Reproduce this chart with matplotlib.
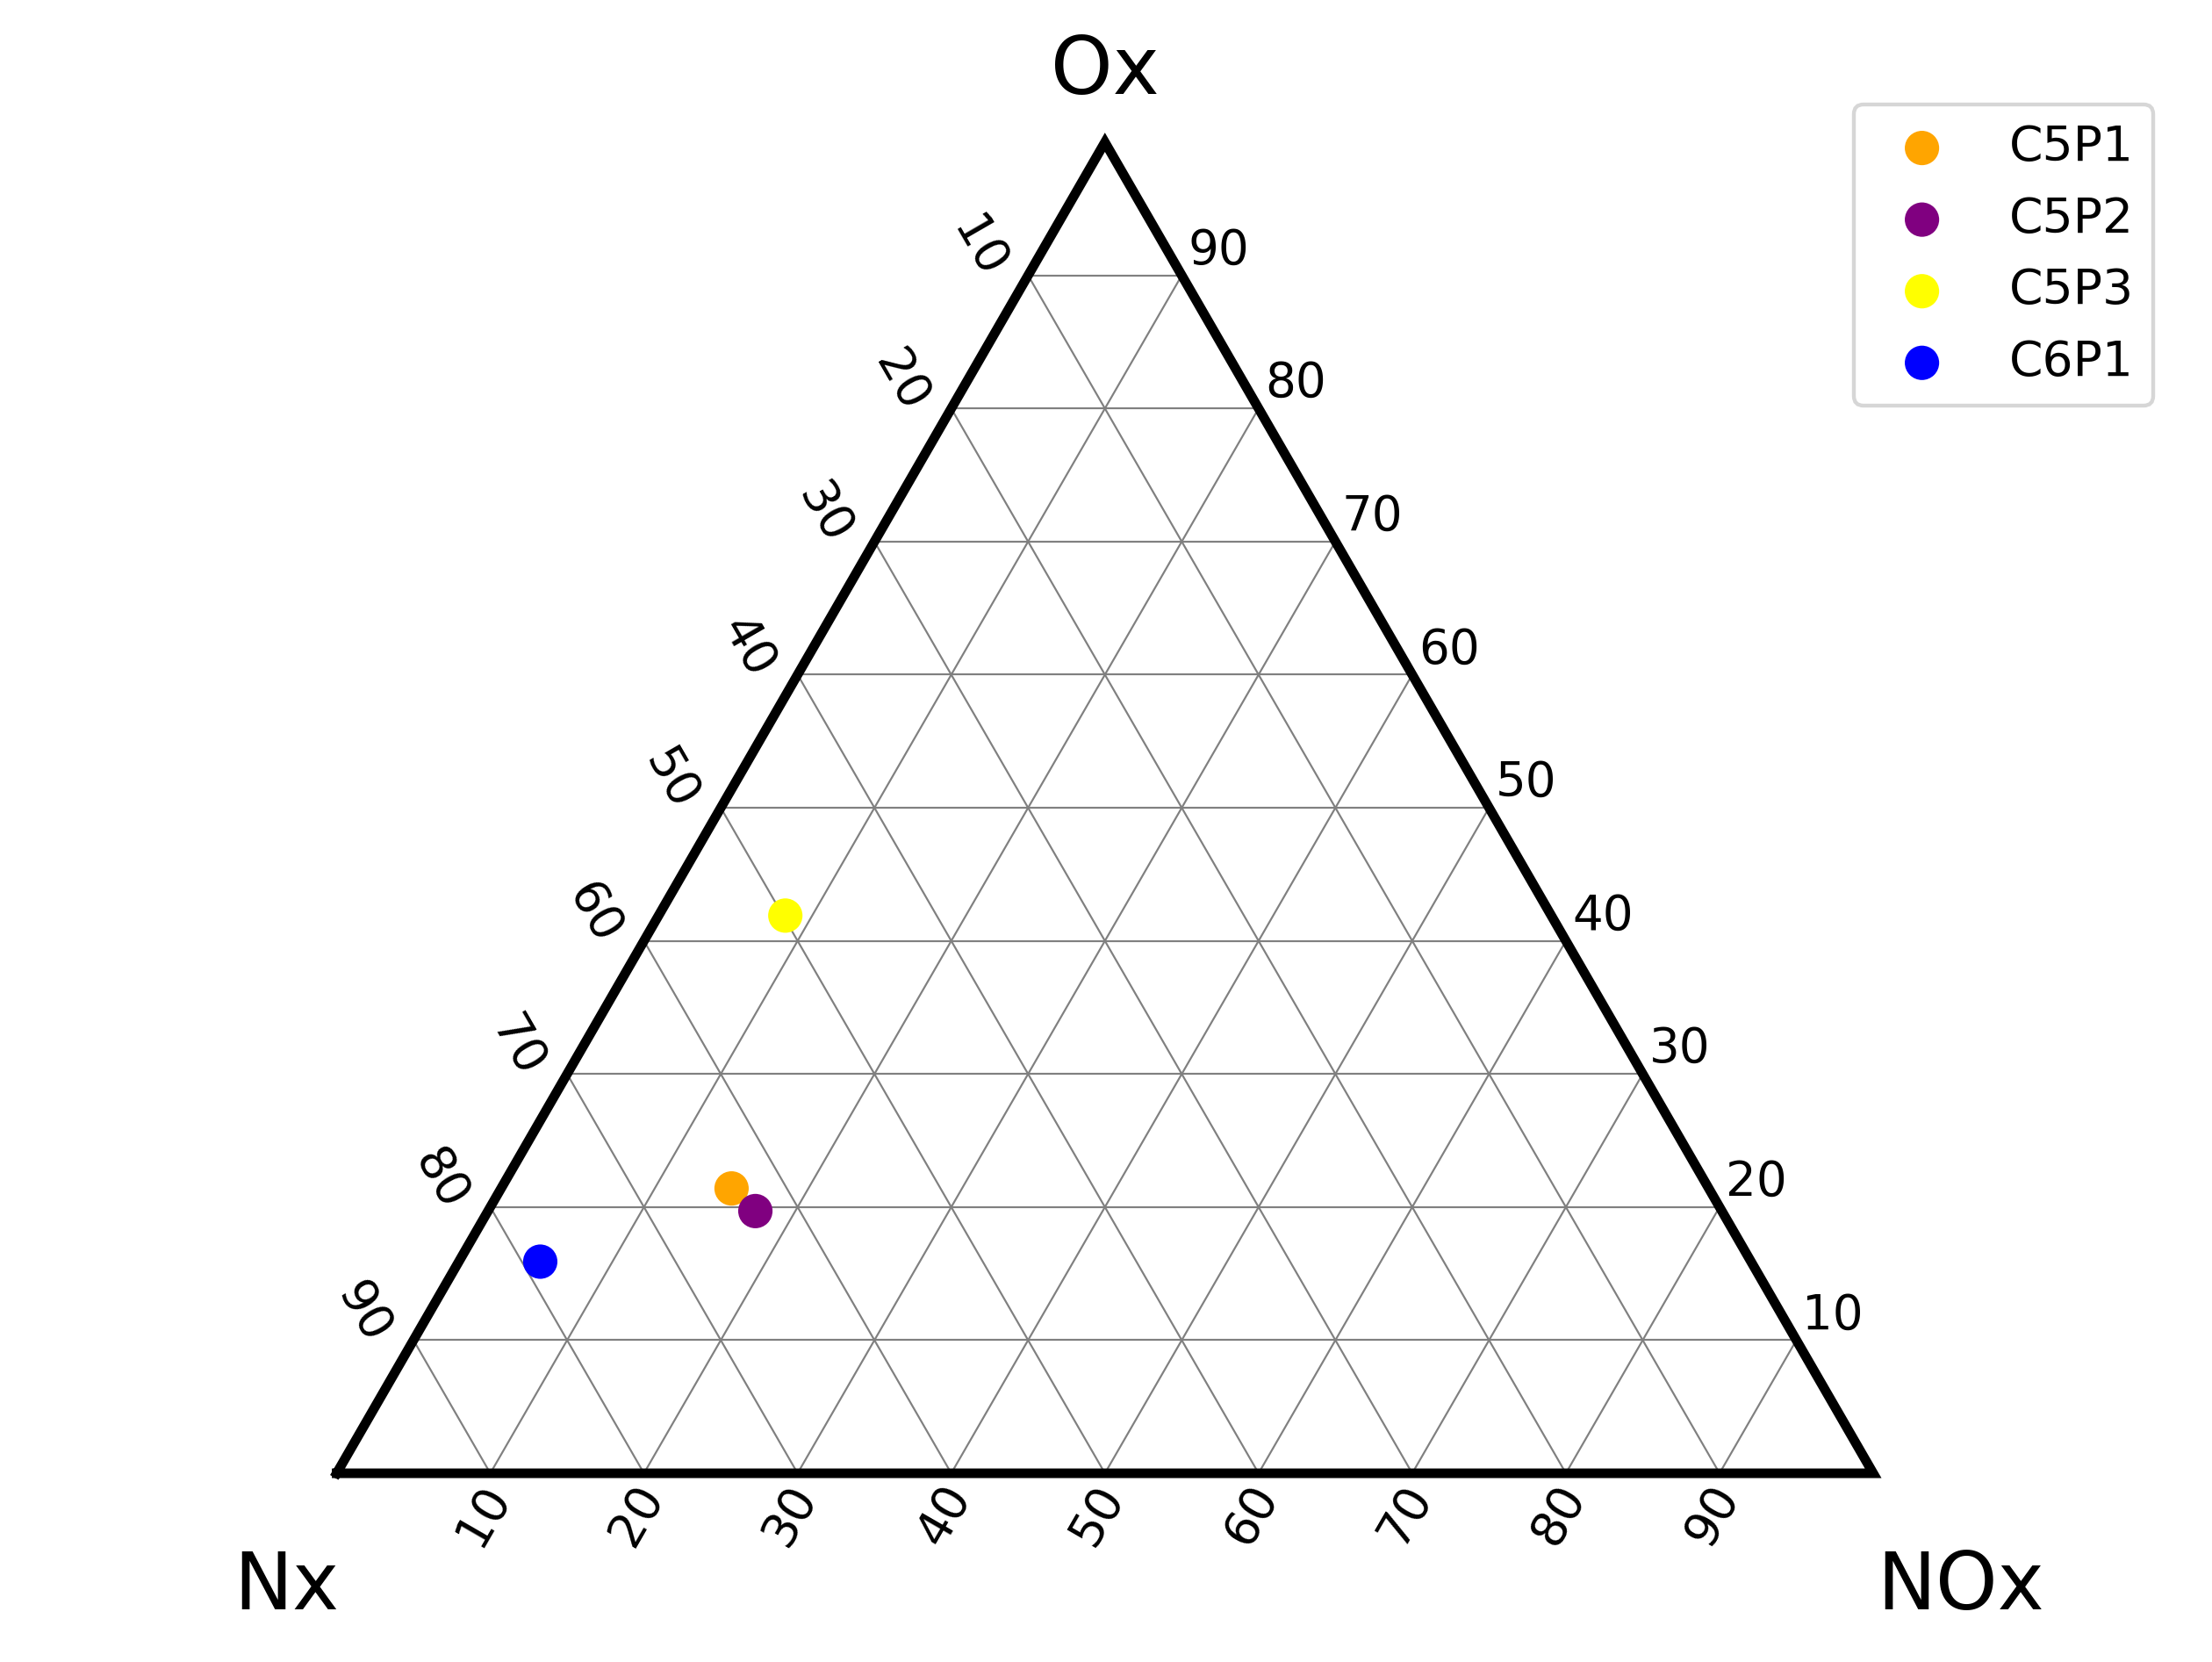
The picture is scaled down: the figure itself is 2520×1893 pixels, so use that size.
"""
plot.py
Ternary plot of Ox / NOx / Nx fractions for four samples.
"""

import numpy as np
import matplotlib.pyplot as plt

samples = ["C5P1", "C5P2", "C5P3", "C6P1"]
nox = [15.0, 17.4, 8.25, 5.3]
ox = [21.4, 19.7, 41.9, 15.9]
nx = [63.6, 62.9, 49.85, 78.8]
colors = ["orange", "purple", "yellow", "blue"]

tick_values = [10, 20, 30, 40, 50, 60, 70, 80, 90]
corner_labels = ["NOx", "Ox", "Nx"]  # right, top, left

H = np.sqrt(3) / 2


def project(a, b):
    # a = NOx (bottom axis), b = Ox (top corner)
    a = np.asarray(a, dtype=float)
    b = np.asarray(b, dtype=float)
    return a + b / 2, b * H


fig = plt.figure(figsize=(8, 1893 / 315), dpi=315)
ax = fig.add_axes([0, 0, 1, 1])
ax.set_xlim(-21.91, 122.05)
ax.set_ylim(-12.28, 95.86)
ax.axis("off")

# gridlines every 10
for v in tick_values:
    # constant Ox
    x, y = project([0, 100 - v], [v, v])
    ax.plot(x, y, color="gray", lw=0.5, zorder=1)
    # constant NOx
    x, y = project([v, v], [0, 100 - v])
    ax.plot(x, y, color="gray", lw=0.5, zorder=1)
    # constant Nx
    x, y = project([100 - v, 0], [0, 100 - v])
    ax.plot(x, y, color="gray", lw=0.5, zorder=1)

# boundary
bx, by = project([0, 100, 0, 0], [0, 0, 100, 0])
ax.plot(bx, by, color="black", lw=2.5, solid_capstyle="projecting",
        solid_joinstyle="miter", zorder=2)

# tick labels
for v in tick_values:
    # bottom (NOx)
    x, y = project(v, 0)
    ax.text(x - 0.47, y - 2.75, str(v), rotation=60, ha="center", va="center",
            fontsize=12.5)
    # right (Ox)
    x, y = project(100 - v, v)
    ax.text(x + 0.4, y + 1.6, str(v), ha="left", va="center", fontsize=12.5)
    # left (Nx)
    x, y = project(0, 100 - v)
    ax.text(x - 3.25, y + 1.8, str(v), rotation=-60, ha="center", va="center",
            fontsize=12.5)

# corner labels
ax.text(50, 86.6 + 4.55, corner_labels[1], ha="center", va="center", fontsize=20.5)
ax.text(-3.25, -7.4, corner_labels[2], ha="center", va="center", fontsize=20.5)
ax.text(105.7, -7.4, corner_labels[0], ha="center", va="center", fontsize=20.5)

# data
for name, a, b, c in zip(samples, nox, ox, colors):
    x, y = project(a, b)
    ax.scatter(x, y, s=80, color=c, label=name, zorder=3, edgecolors="none")

fig.legend(loc="upper right", bbox_to_anchor=(2453 / 2520, 1 - 119 / 1893),
           borderaxespad=0, fontsize=12.6)

fig.savefig("out.png", dpi=315)
print("Saved out.png")
